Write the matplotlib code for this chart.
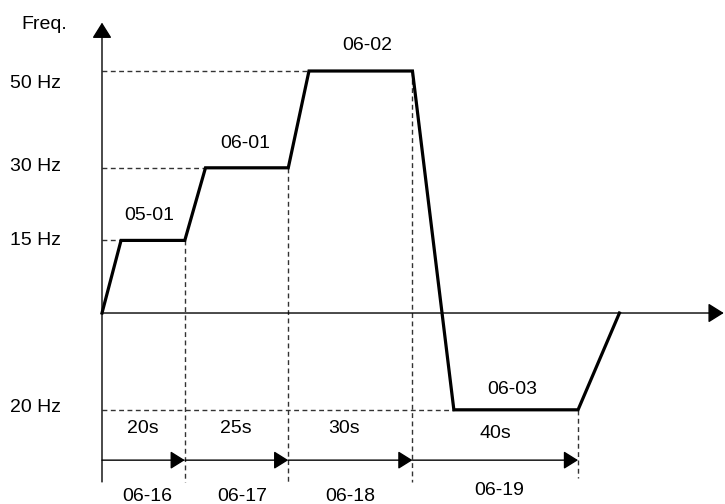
import matplotlib
matplotlib.use("Agg")
import matplotlib.pyplot as plt

plt.rcParams['font.family'] = ['Liberation Sans', 'DejaVu Sans']

# frequency profile (time in s, frequency in Hz)
time_s = [0, 4.6, 20, 25, 45, 50, 75, 85, 115, 125]
freq_hz = [0, 15, 15, 30, 30, 50, 50, -20, -20, 0]

levels = [50, 30, 15, -20]
level_labels = ['50 Hz', '30 Hz', '15 Hz', '20 Hz']

# step boundaries (s) and labels
bounds = [0, 20, 45, 75, 115]
durations = ['20s', '25s', '30s', '40s']
time_params = ['06-16', '06-17', '06-18', '06-19']
speed_params = ['05-01', '06-01', '06-02', '06-03']

fig = plt.figure(figsize=(7.25, 5.04), dpi=100)
ax = fig.add_axes([0, 0, 1, 1])
ax.set_xlim(-24.64, 150.5)
ax.set_ylim(-39.46, 64.67)
ax.axis('off')

fs = 14
dash = (0, (3.5, 2.5))
gray = '#333333'
head = '-|>,head_length=0.4,head_width=0.25'

# axes with arrows
ax.annotate('', xy=(150.2, 0), xytext=(0, 0),
            arrowprops=dict(arrowstyle=head, color='black', lw=1.0,
                            mutation_scale=24, shrinkA=0, shrinkB=0))
ax.annotate('', xy=(0, 60.0), xytext=(0, -34.9),
            arrowprops=dict(arrowstyle=head, color='black', lw=1.0,
                            mutation_scale=24, shrinkA=0, shrinkB=0))

# horizontal dashed guides up to the start of each plateau
for lv in levels:
    t_start = time_s[freq_hz.index(lv)]
    ax.plot([0, t_start], [lv, lv], color=gray, lw=1.0, ls=dash)

# vertical dashed guides at end of each step
for b in bounds[1:]:
    f_end = freq_hz[time_s.index(b)]
    bottom = -34.1 if b == bounds[-1] else -34.9
    ax.plot([b, b], [f_end, bottom], color=gray, lw=1.0, ls=dash)

# profile
ax.plot(time_s, freq_hz, color='black', lw=2.3, solid_joinstyle='miter')

# level labels
label_y = [47.5, 30.2, 14.9, -19.6]
for lbl, y in zip(level_labels, label_y):
    ax.text(-16.1, y, lbl, ha='center', va='center', fontsize=fs)
ax.text(-14.0, 59.7, 'Freq.', ha='center', va='center', fontsize=fs)

# step duration arrows
for i in range(len(durations)):
    ax.annotate('', xy=(bounds[i + 1], -30.4), xytext=(bounds[i], -30.4),
                arrowprops=dict(arrowstyle=head, color='black', lw=1.0,
                                mutation_scale=22, shrinkA=0, shrinkB=0))

dur_x = [9.8, 32.4, 58.5, 95.0]
dur_y = [-23.8, -23.8, -23.8, -24.8]
for lbl, x, y in zip(durations, dur_x, dur_y):
    ax.text(x, y, lbl, ha='center', va='center', fontsize=fs)

par_x = [10.9, 33.9, 60.0, 96.0]
par_y = [-38.0, -38.0, -38.0, -36.6]
for lbl, x, y in zip(time_params, par_x, par_y):
    ax.text(x, y, lbl, ha='center', va='center', fontsize=fs)

sp_x = [11.4, 34.5, 64.0, 99.1]
sp_y = [20.2, 35.1, 55.2, -15.9]
for lbl, x, y in zip(speed_params, sp_x, sp_y):
    ax.text(x, y, lbl, ha='center', va='center', fontsize=fs)

fig.savefig('out.png', dpi=100)
